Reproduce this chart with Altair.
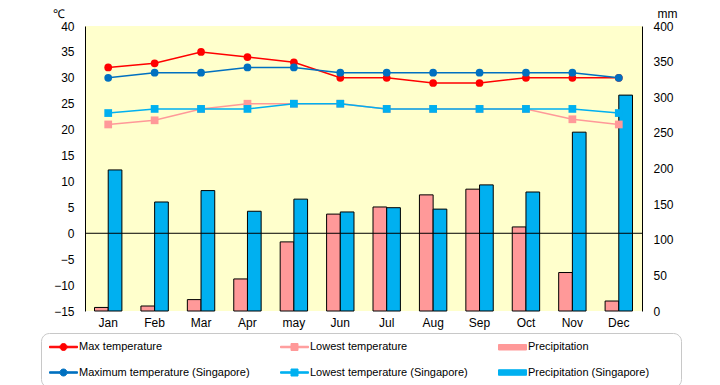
import altair as alt
import pandas as pd

months = ["Jan", "Feb", "Mar", "Apr", "may", "Jun", "Jul", "Aug", "Sep", "Oct", "Nov", "Dec"]
max_temp = [32, 32.8, 35, 34, 33, 30, 30, 29, 29, 30, 30, 30]
low_temp = [21, 21.8, 24, 25, 25, 25, 24, 24, 24, 24, 22, 21]
sg_max_temp = [30, 31, 31, 32, 32, 31, 31, 31, 31, 31, 31, 30]
sg_low_temp = [23.2, 24, 24, 24, 25, 25, 24, 24, 24, 24, 24, 23.2]
precip = [5, 7, 16, 45, 97, 136, 146, 163, 171, 118, 54, 14]
sg_precip = [198, 153, 169, 140, 157, 139, 145, 143, 177, 167, 251, 303]

# legend fills column by column, so this order gives the reference's rows
series_names = ["Max temperature", "Maximum temperature (Singapore)",
                "Lowest temperature", "Lowest temperature (Singapore)",
                "Precipitation", "Precipitation (Singapore)"]
series_colors = ["#FF0000", "#0070C0", "#FF9999", "#00B0F0", "#FF9999", "#00B0F0"]
series_outline = ["transparent", "transparent", "transparent", "transparent",
                  "black", "black"]

temp_ticks = list(range(-15, 45, 5))
mm_ticks = list(range(0, 450, 50))

FONT = "Liberation Sans"

temp_rows = []
for name, vals in [("Max temperature", max_temp), ("Lowest temperature", low_temp),
                   ("Maximum temperature (Singapore)", sg_max_temp),
                   ("Lowest temperature (Singapore)", sg_low_temp)]:
    for m, v in zip(months, vals):
        temp_rows.append({"month": m, "series": name, "value": v})
temp_df = pd.DataFrame(temp_rows)

prec_rows = []
for name, vals in [("Precipitation", precip), ("Precipitation (Singapore)", sg_precip)]:
    for m, v in zip(months, vals):
        prec_rows.append({"month": m, "series": name, "value": v})
prec_df = pd.DataFrame(prec_rows)

zero_df = pd.DataFrame({"value": [0]})

color_scale = alt.Scale(domain=series_names, range=series_colors)
outline_scale = alt.Scale(domain=series_names, range=series_outline)

LINE_CIRCLE = ("M-1,-0.15H1.1V0.15H-1Z M2.5,-0.15H4.6V0.15H2.5Z "
               "M1.1,0A0.7,0.7 0 1,0 2.5,0A0.7,0.7 0 1,0 1.1,0Z")
LINE_SQUARE = ("M-1,-0.15H1.1V0.15H-1Z M2.5,-0.15H4.6V0.15H2.5Z "
               "M1.1,-0.7H2.5V0.7H1.1Z")
BAR_RECT = "M-1,-0.55H4.6V0.55H-1Z"

circle_names = ["Max temperature", "Maximum temperature (Singapore)"]
bar_names = ["Precipitation", "Precipitation (Singapore)"]


def in_list(names):
    return "(" + " || ".join(f"datum.value === '{n}'" for n in names) + ")"


shape_expr = (f"{in_list(circle_names)} ? '{LINE_CIRCLE}' : "
              f"({in_list(bar_names)} ? '{BAR_RECT}' : '{LINE_SQUARE}')")

legend = alt.Legend(
    title="\u00a0",
    titleOrient="right",
    titlePadding=24,
    titleFontSize=11,
    orient="none",
    legendX=-44,
    legendY=307,
    columns=3,
    columnPadding=28,
    rowPadding=13,
    padding=8,
    gridAlign="each",
    symbolSize=100,
    symbolType={"expr": shape_expr},
    symbolStrokeWidth=1,
    symbolOpacity=1,
    labelOffset=19,
    labelLimit=300,
    labelFont=FONT,
    labelFontSize=11,
    labelColor="black",
    strokeColor="#C8C8C8",
    fillColor="white",
    cornerRadius=8,
)

x_axis = alt.Axis(title=None, labelAngle=0, ticks=False, domain=False, labelPadding=6,
                  labelFont=FONT, labelFontSize=12, labelColor="black")
x_enc = alt.X("month:N", sort=months,
              scale=alt.Scale(paddingInner=0.41, paddingOuter=0.205), axis=x_axis)

temp_scale = alt.Scale(domain=[-15, 40], nice=False, zero=False)
temp_axis = alt.Axis(values=temp_ticks, grid=False, ticks=False, domainColor="black",
                     labelPadding=11, labelFont=FONT, labelFontSize=12, labelColor="black",
                     title="℃", titleAngle=0, titleX=-27, titleY=-18,
                     titleAlign="center", titleBaseline="top",
                     titleFont=FONT, titleFontSize=12, titleFontWeight="normal",
                     titleColor="black")
mm_axis = alt.Axis(values=mm_ticks, orient="right", grid=False, ticks=False,
                   domainColor="black", labelPadding=11, labelFont=FONT, labelFontSize=12,
                   labelColor="black", title="mm", titleAngle=0, titleX=25, titleY=-18,
                   titleAlign="center", titleBaseline="top",
                   titleFont=FONT, titleFontSize=12, titleFontWeight="normal",
                   titleColor="black")

bars = alt.Chart(prec_df).mark_bar(strokeWidth=1).encode(
    x=x_enc,
    xOffset=alt.XOffset("series:N", sort=bar_names,
                        scale=alt.Scale(paddingInner=0, paddingOuter=0)),
    y=alt.Y("value:Q", scale=alt.Scale(domain=[0, 400], nice=False), axis=mm_axis),
    color=alt.Color("series:N", scale=color_scale, legend=legend),
    stroke=alt.Stroke("series:N", scale=outline_scale, legend=legend),
)

rule = alt.Chart(zero_df).mark_rule(color="black", strokeWidth=1).encode(
    y=alt.Y("value:Q", scale=temp_scale, axis=temp_axis)
)

line_layers = []
for name in ["Max temperature", "Lowest temperature",
             "Maximum temperature (Singapore)", "Lowest temperature (Singapore)"]:
    shape = "circle" if name in circle_names else "square"
    line_layers.append(
        alt.Chart(temp_df).transform_filter(alt.datum.series == name).mark_line(
            strokeWidth=1.5,
            point=alt.OverlayMarkDef(shape=shape, size=60, filled=True, opacity=1),
        ).encode(
            x=x_enc,
            y=alt.Y("value:Q", scale=temp_scale, axis=temp_axis),
            color=alt.Color("series:N", scale=color_scale, legend=None),
        )
    )

temp_layer = alt.layer(rule, *line_layers)

chart = alt.layer(bars, temp_layer).resolve_scale(y="independent").properties(
    width=557,
    height=285,
    padding={"left": 77, "top": 18, "right": 70, "bottom": 76},
    autosize=alt.AutoSizeParams(type="none"),
    background="white",
).configure_view(fill="#FFFFCC", strokeWidth=0)

chart.save("out.html", embed_options={"renderer": "svg", "actions": False})
